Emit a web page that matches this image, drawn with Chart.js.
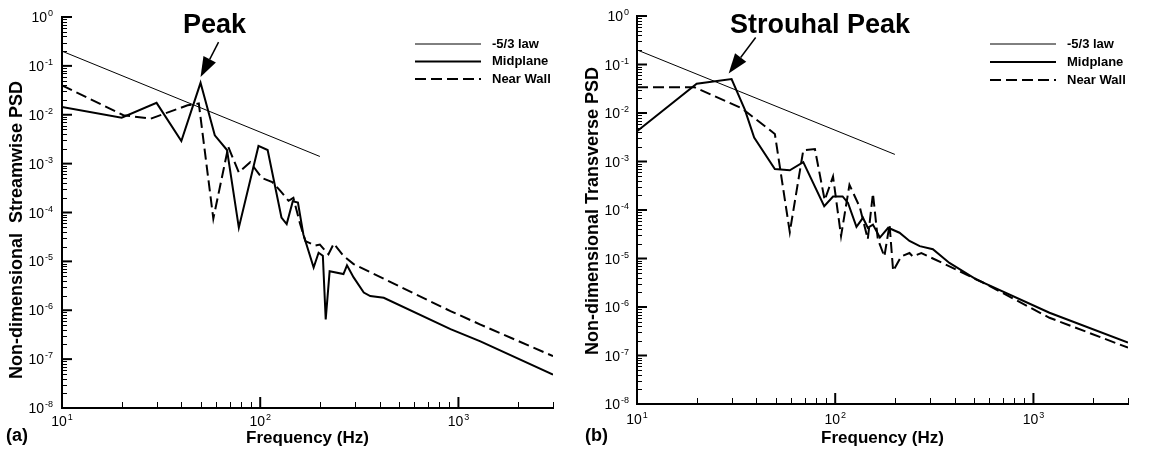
<!DOCTYPE html>
<html>
<head>
<meta charset="utf-8">
<script src="https://cdn.jsdelivr.net/npm/chart.js@4.4.1/dist/chart.umd.min.js"></script>
<style>
  html, body { margin: 0; padding: 0; background: #fff; }
  #wrap { position: relative; width: 1149px; height: 455px; }
  canvas { position: absolute; top: 0; }
</style>
</head>
<body>
<div id="wrap">
  <canvas id="chartA" width="574" height="455" style="left:0"></canvas>
  <canvas id="chartB" width="575" height="455" style="left:574px"></canvas>
</div>
<script>
// ---- data ----
const lawFreq = [10, 200];
const lawPsd = [0.2, 1.4e-3];

// (a) streamwise
const midFreqA = [10, 20, 30, 40, 50, 59, 68, 78, 98, 109, 128, 136, 146, 155, 165, 186, 197, 207, 214, 224, 263, 274, 296, 333, 359, 420, 912, 1291, 3000];
const midPsdA = [1.45e-2, 8.7e-3, 1.75e-2, 2.9e-3, 4.5e-2, 3.8e-3, 1.9e-3, 4.9e-5, 2.3e-3, 1.9e-3, 7.9e-5, 5.8e-5, 1.7e-4, 1.6e-4, 3.6e-5, 7.5e-6, 1.5e-5, 1.3e-5, 6.5e-7, 6.3e-6, 5.5e-6, 8.3e-6, 4.7e-6, 2.3e-6, 1.95e-6, 1.8e-6, 4.1e-7, 2.3e-7, 4.8e-8];
const wallFreqA = [10, 20.4, 28, 43, 49, 58, 69, 78, 89, 102, 115, 126, 139, 147, 159, 169, 190, 200, 221, 235, 263, 296, 912, 1291, 3000];
const wallPsdA = [4e-2, 9.8e-3, 8.3e-3, 1.56e-2, 1.7e-2, 7.5e-5, 2.2e-3, 6.6e-4, 1.07e-3, 5.1e-4, 4.2e-4, 2.8e-4, 1.74e-4, 2e-4, 5.8e-5, 2.6e-5, 2.1e-5, 2.2e-5, 1.4e-5, 2.3e-5, 1.3e-5, 8.8e-6, 9.6e-7, 5.1e-7, 1.15e-7];

// (b) transverse
const midFreqB = [10, 20, 30, 35, 39, 49.6, 59, 69, 88, 97.5, 109, 116, 128, 138, 146, 155, 168, 185, 211, 237, 267, 311, 377, 514, 1205, 3000];
const midPsdB = [4.2e-3, 4e-2, 5e-2, 1.17e-2, 3.1e-3, 7e-4, 6.6e-4, 9.7e-4, 1.2e-4, 1.9e-4, 1.9e-4, 1.4e-4, 4.5e-5, 6.9e-5, 4.3e-5, 5e-5, 2.7e-5, 4.3e-5, 3.4e-5, 2.3e-5, 1.8e-5, 1.55e-5, 8.1e-6, 3.7e-6, 7.6e-7, 1.85e-7];
const wallFreqB = [10, 19.5, 33.7, 49.6, 59, 69, 79, 88.5, 97.5, 107, 118, 133, 146, 155, 164, 177, 188, 196, 215, 237, 246, 272, 311, 377, 556, 1205, 3000];
const wallPsdB = [3.4e-2, 3.4e-2, 1.26e-2, 3.7e-3, 3.5e-5, 1.7e-3, 1.8e-3, 1.6e-4, 4.9e-4, 2.9e-5, 3.3e-4, 1.15e-4, 2.5e-5, 2.2e-4, 2.5e-5, 1.1e-5, 5e-5, 5.5e-6, 1.1e-5, 1.3e-5, 1.1e-5, 1.3e-5, 1e-5, 6.9e-6, 3.2e-6, 6e-7, 1.45e-7];

const seriesNames = ['-5/3 law', 'Midplane', 'Near Wall'];
const xTickExps = [1, 2, 3];
const yTickExps = [0, -1, -2, -3, -4, -5, -6, -7, -8];

const FONT = '"Liberation Sans", Arial, Helvetica, sans-serif';
const pts = (xs, ys) => xs.map((x, i) => ({ x, y: ys[i] }));

const styles = [
  { borderWidth: 1, borderDash: [] },
  { borderWidth: 2, borderDash: [] },
  { borderWidth: 2, borderDash: [11, 5] }
];

function powLabel(ctx, exp, x, y, align) {
  ctx.font = '14px ' + FONT;
  const wb = ctx.measureText('10').width;
  ctx.font = '9px ' + FONT;
  const es = String(exp);
  const we = ctx.measureText(es).width;
  let x0 = x;
  if (align === 'right') x0 = x - wb - we - 1;
  if (align === 'center') x0 = x - (wb + we + 1) / 2;
  ctx.font = '14px ' + FONT;
  ctx.fillText('10', x0, y);
  ctx.font = '9px ' + FONT;
  ctx.fillText(es, x0 + wb + 1, y - 6);
}

function decor(p) {
  return {
    id: 'decor',
    afterDatasetsDraw(chart) {
      const { ctx, chartArea: a, scales: { x, y } } = chart;
      ctx.save();
      ctx.fillStyle = '#000';
      ctx.strokeStyle = '#000';

      // axis lines
      ctx.lineWidth = 2;
      ctx.beginPath();
      ctx.moveTo(a.left, a.top - 1);
      ctx.lineTo(a.left, a.bottom);
      ctx.lineTo(a.right + 1, a.bottom);
      ctx.stroke();

      // y ticks
      yTickExps.forEach(e => {
        const py = y.getPixelForValue(Math.pow(10, e));
        ctx.lineWidth = 2;
        ctx.beginPath(); ctx.moveTo(a.left, py); ctx.lineTo(a.left + 10, py); ctx.stroke();
        ctx.textAlign = 'left'; ctx.textBaseline = 'alphabetic';
        powLabel(ctx, e, a.left - p.yLabelGap, py + 5, 'right');
        if (e > -8) {
          ctx.lineWidth = 1;
          for (let m = 2; m <= 9; m++) {
            const my = Math.round(y.getPixelForValue(m * Math.pow(10, e - 1))) + 0.5;
            ctx.beginPath(); ctx.moveTo(a.left, my); ctx.lineTo(a.left + 5, my); ctx.stroke();
          }
        }
      });

      // x ticks
      xTickExps.forEach(e => {
        const px = x.getPixelForValue(Math.pow(10, e));
        if (e > 1) {
          ctx.lineWidth = 2;
          ctx.beginPath(); ctx.moveTo(px, a.bottom); ctx.lineTo(px, a.bottom - 11); ctx.stroke();
        }
        powLabel(ctx, e, px, a.bottom + p.xLabelGap, 'center');
        ctx.lineWidth = 1;
        for (let m = 2; m <= 9; m++) {
          const v = m * Math.pow(10, e);
          if (v > 3000) break;
          const mx = Math.round(x.getPixelForValue(v)) + 0.5;
          ctx.beginPath(); ctx.moveTo(mx, a.bottom); ctx.lineTo(mx, a.bottom - 6); ctx.stroke();
        }
      });

      // axis titles
      ctx.font = 'bold 17px ' + FONT;
      ctx.textAlign = 'center';
      ctx.fillText('Frequency (Hz)', (a.left + a.right) / 2, 443);
      ctx.save();
      ctx.translate(p.yTitleX, p.yTitleY);
      ctx.rotate(-Math.PI / 2);
      ctx.textBaseline = 'middle';
      ctx.font = 'bold 18px ' + FONT;
      ctx.fillText(p.yTitle, 0, 0);
      ctx.restore();

      ctx.textAlign = 'left';
      ctx.font = 'bold 18px ' + FONT;
      ctx.fillText(p.panel, p.panelX, 441);

      // legend
      ctx.font = 'bold 13px ' + FONT;
      ctx.textBaseline = 'middle';
      seriesNames.forEach((name, i) => {
        const ly = p.legendY[i];
        ctx.lineWidth = styles[i].borderWidth;
        ctx.setLineDash(styles[i].borderDash);
        ctx.beginPath(); ctx.moveTo(p.legendX, ly); ctx.lineTo(p.legendX + 66, ly); ctx.stroke();
        ctx.setLineDash([]);
        ctx.fillText(name, p.legendX + 77, ly);
      });

      // peak label + arrow
      ctx.textBaseline = 'alphabetic';
      ctx.font = 'bold 27px ' + FONT;
      ctx.fillText(p.title, p.titleX, 33);
      const tx = x.getPixelForValue(p.tip[0]);
      const ty = y.getPixelForValue(p.tip[1]);
      const sx = tx + p.tail[0], sy = ty + p.tail[1];
      const len = Math.hypot(tx - sx, ty - sy);
      const ux = (tx - sx) / len, uy = (ty - sy) / len;
      const bx = tx - ux * 20, by = ty - uy * 20;
      ctx.lineWidth = 1.5;
      ctx.beginPath(); ctx.moveTo(sx, sy); ctx.lineTo(bx, by); ctx.stroke();
      ctx.beginPath();
      ctx.moveTo(tx, ty);
      ctx.lineTo(bx - uy * 7, by + ux * 7);
      ctx.lineTo(bx + uy * 7, by - ux * 7);
      ctx.closePath();
      ctx.fill();
      ctx.restore();
    }
  };
}

function makeChart(id, mid, wall, p) {
  const sets = [pts(lawFreq, lawPsd), mid, wall];
  new Chart(document.getElementById(id), {
    type: 'line',
    data: {
      datasets: sets.map((d, i) => ({
        label: seriesNames[i],
        data: d,
        borderColor: '#000',
        borderWidth: styles[i].borderWidth,
        borderDash: styles[i].borderDash,
        pointRadius: 0,
        tension: 0,
        fill: false
      }))
    },
    options: {
      responsive: false,
      animation: false,
      layout: { padding: p.pad },
      plugins: { legend: { display: false }, tooltip: { enabled: false } },
      scales: {
        x: { type: 'logarithmic', min: 10, max: 3000, display: false },
        y: { type: 'logarithmic', min: 1e-8, max: 1, display: false }
      }
    },
    plugins: [decor(p)]
  });
}

makeChart('chartA', pts(midFreqA, midPsdA), pts(wallFreqA, wallPsdA), {
  pad: { left: 62, right: 21, top: 17, bottom: 47 },
  yLabelGap: 9, xLabelGap: 18,
  yTitle: 'Non-dimensional  Streamwise PSD', yTitleX: 17, yTitleY: 230,
  panel: '(a)', panelX: 6,
  legendX: 415, legendY: [44, 61.5, 79],
  title: 'Peak', titleX: 183, tip: [50, 0.059], tail: [18, -35]
});

makeChart('chartB', pts(midFreqB, midPsdB), pts(wallFreqB, wallPsdB), {
  pad: { left: 63, right: 21, top: 16, bottom: 51 },
  yLabelGap: 8, xLabelGap: 20,
  yTitle: 'Non-dimensional Transverse PSD', yTitleX: 19.5, yTitleY: 211,
  panel: '(b)', panelX: 11,
  legendX: 416, legendY: [44, 62, 80],
  title: 'Strouhal Peak', titleX: 156, tip: [29, 0.065], tail: [27, -36]
});
</script>
</body>
</html>
